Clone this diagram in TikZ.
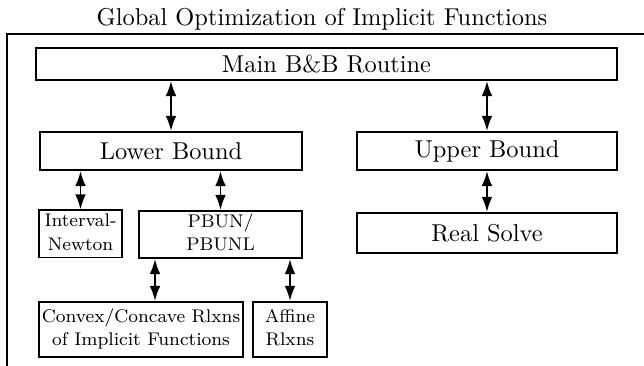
\documentclass[tikz,border=0pt]{standalone}
\usepackage{graphicx}
\usetikzlibrary{arrows.meta}
\newcommand\pxu{0.41pt}
\newcommand\boxtext[1]{\scalebox{0.94}{\footnotesize\def\arraystretch{1.08}\begin{tabular}{@{}c@{}}#1\end{tabular}}}
\begin{document}
\begin{tikzpicture}[x=0.41pt,y=-0.41pt,
	blk/.style={draw,line width=0.8pt,inner sep=0pt,align=center},
	small/.style={blk},
	link/.style={{Latex[length=6.2pt,width=4.4pt]}-{Latex[length=6.2pt,width=4.4pt]},line width=0.8pt}]
	\useasboundingbox (0,0) rectangle (644,366);
	% outer frame and caption
	\draw [line width=0.6pt] (7,366) |- (644,34);
	\node (title) at (322,19) {Global Optimization of Implicit Functions};
	% boxes
	\node [blk,minimum width=581*\pxu,minimum height=32*\pxu] (main) at (326.5,64) {Main B\&B Routine};
	\node [blk,minimum width=262*\pxu,minimum height=38*\pxu] (lb) at (171,151) {Lower Bound};
	\node [blk,minimum width=260*\pxu,minimum height=38*\pxu] (ub) at (487,151) {Upper Bound};
	\node [blk,minimum width=260*\pxu,minimum height=40*\pxu] (rs) at (487,233) {Real Solve};
	\node [small,minimum width=83*\pxu,minimum height=42*\pxu] (iv) at (80.5,234) {\boxtext{Interval-\\Newton}};
	\node [small,minimum width=163*\pxu,minimum height=41*\pxu] (pb) at (220.5,234.5) {\boxtext{PBUN/\\PBUNL}};
	\node [small,minimum width=204*\pxu,minimum height=55*\pxu] (cv) at (141,329.5) {\boxtext{Convex/Concave Rlxns\\of Implicit Functions}};
	\node [small,minimum width=74*\pxu,minimum height=55*\pxu] (af) at (290,329.5) {\boxtext{Affine\\Rlxns}};
	% connections
	\draw [link] (main.south -| lb.north) -- (lb.north);
	\draw [link] (main.south -| ub.north) -- (ub.north);
	\draw [link] (ub) -- (rs);
	\draw [link] (lb.south -| iv.north) -- (iv.north);
	\draw [link] (lb.south -| pb.north) -- (pb.north);
	\path (pb.south west) ++(17,0) coordinate (cvlink);
	\draw [link] (cvlink) -- (cvlink |- cv.north);
	\draw [link] (pb.south -| af.north) -- (af.north);
\end{tikzpicture}
\end{document}
